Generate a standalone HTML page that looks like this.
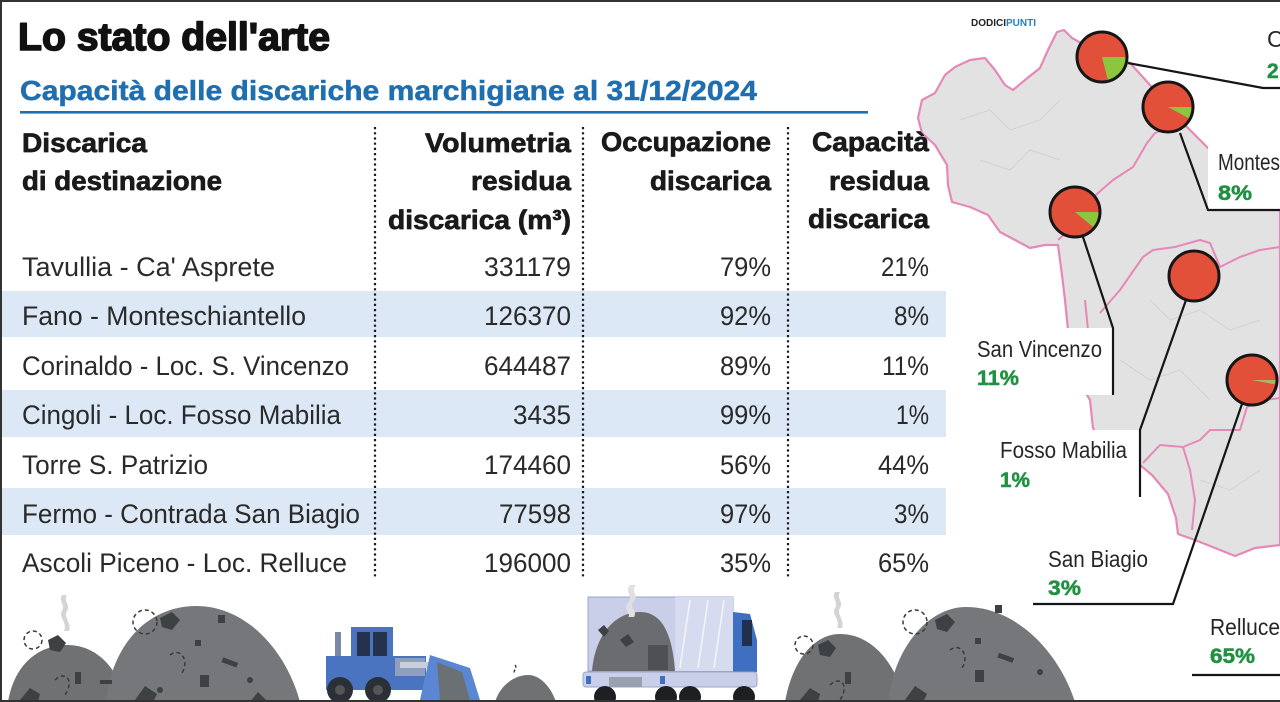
<!DOCTYPE html>
<html><head><meta charset="utf-8"><style>
html,body{margin:0;padding:0;background:#fff;}
svg{display:block;}
</style></head><body>
<svg width="1280" height="702" viewBox="0 0 1280 702" xmlns="http://www.w3.org/2000/svg">
<rect width="1280" height="702" fill="#fff"/>

<!-- MAP -->
<polygon points="1057,32 1064,30 1072,38 1090,48 1110,55 1130,63 1150,85 1170,110 1190,130 1210,150 1240,175 1280,205 1280,545 1255,548 1235,556 1215,548 1195,540 1178,534 1176,518 1168,494 1152,475 1140,465 1120,455 1100,440 1093,428 1090,400 1087,395 1075,360 1068,330 1065,300 1062,275 1058,245 1045,245 1030,248 1015,240 1000,232 988,215 970,207 952,202 948,185 947,165 935,145 922,133 918,118 922,100 935,93 945,75 955,67 970,60 985,58 995,70 1005,85 1013,90 1025,80 1040,68 1048,50" fill="#e2e2e2" stroke="#e688b8" stroke-width="2.2" stroke-linejoin="round"/>
<g fill="none" stroke="#e688b8" stroke-width="2" stroke-linejoin="round">
<polyline points="1058,240 1075,225 1090,200 1113,180 1133,167 1147,143 1155,133 1168,128"/>
<polyline points="1100,313 1120,290 1143,257 1153,250 1175,247 1200,240 1210,243 1220,267 1240,257 1260,250 1280,247"/>
<polyline points="1143,463 1160,445 1183,447 1200,440 1210,430 1240,430 1247,407 1265,400 1280,398"/>
<polyline points="1183,447 1190,470 1195,500 1192,530"/>
<polyline points="1085,300 1088,330 1087,395"/>
</g>
<g fill="none" stroke="#d2d2d2" stroke-width="1">
<polyline points="960,120 990,110 1010,130 1040,120 1060,100"/>
<polyline points="980,160 1010,170 1030,150 1060,160"/>
<polyline points="1150,300 1170,320 1200,310 1230,330 1260,320"/>
<polyline points="1120,360 1150,380 1180,370 1210,400"/>
<polyline points="1200,480 1230,490 1260,470"/>
</g>

<!-- label boxes -->
<rect x="1208" y="146" width="72" height="64" fill="#fff"/>
<rect x="970" y="328" width="143" height="67" fill="#fff"/>
<rect x="995" y="430" width="145" height="67" fill="#fff"/>

<!-- leader lines -->
<g fill="none" stroke="#161616" stroke-width="2.2">
<polyline points="1128,63 1263,88 1280,88"/>
<polyline points="1180,133 1208,210 1280,210"/>
<polyline points="1083,237 1113,328 1113,395"/>
<polyline points="1186,300 1140,430 1140,497"/>
<polyline points="1242,404 1173,604 1033,604"/>
<polyline points="1192,675 1280,675"/>
</g>

<!-- pies -->
<g stroke="none">
<circle cx="1102" cy="57" r="24.5" fill="#e2503a"/>
<path d="M1102,57 L1126.5,57 A24.5,24.5 0 0,1 1108.1,80.7 Z" fill="#8cc63f"/>
<circle cx="1102" cy="57" r="25" fill="none" stroke="#161616" stroke-width="3"/>

<circle cx="1168" cy="107" r="24.5" fill="#e2503a"/>
<path d="M1168,107 L1192.5,107 A24.5,24.5 0 0,1 1189.5,118.8 Z" fill="#8cc63f"/>
<circle cx="1168" cy="107" r="25" fill="none" stroke="#161616" stroke-width="3"/>

<circle cx="1075" cy="212" r="24.5" fill="#e2503a"/>
<path d="M1075,212 L1099.5,212 A24.5,24.5 0 0,1 1093.9,227.6 Z" fill="#8cc63f"/>
<circle cx="1075" cy="212" r="25" fill="none" stroke="#161616" stroke-width="3"/>

<circle cx="1194" cy="276" r="24.5" fill="#e2503a"/>
<circle cx="1194" cy="276" r="25" fill="none" stroke="#161616" stroke-width="3"/>

<circle cx="1252" cy="380" r="24.5" fill="#e2503a"/>
<path d="M1252,380 L1276.5,380 A24.5,24.5 0 0,1 1276.1,384.6 Z" fill="#a8b860"/>
<circle cx="1252" cy="380" r="25" fill="none" stroke="#161616" stroke-width="3"/>
</g>

<!-- map labels -->
<g font-family="Liberation Sans, sans-serif" font-size="23" fill="#262626">
<text x="1267" y="47">C</text>
<text x="1218" y="170" textLength="62" lengthAdjust="spacingAndGlyphs">Montes</text>
<text x="977" y="357" textLength="125" lengthAdjust="spacingAndGlyphs">San Vincenzo</text>
<text x="1000" y="458" textLength="127" lengthAdjust="spacingAndGlyphs">Fosso Mabilia</text>
<text x="1048" y="567" textLength="100" lengthAdjust="spacingAndGlyphs">San Biagio</text>
<text x="1210" y="635" textLength="70" lengthAdjust="spacingAndGlyphs">Relluce</text>
</g>
<g font-family="Liberation Sans, sans-serif" font-size="21" font-weight="bold" fill="#1f9140" stroke="#1f9140" stroke-width="0.5">
<text x="1267" y="78">2</text>
<text x="1218" y="200" textLength="34" lengthAdjust="spacingAndGlyphs">8%</text>
<text x="977" y="385" textLength="42" lengthAdjust="spacingAndGlyphs">11%</text>
<text x="1000" y="487" textLength="30" lengthAdjust="spacingAndGlyphs">1%</text>
<text x="1048" y="595" textLength="33" lengthAdjust="spacingAndGlyphs">3%</text>
<text x="1210" y="663" textLength="45" lengthAdjust="spacingAndGlyphs">65%</text>
</g>

<text x="971" y="26" font-family="Liberation Sans, sans-serif" font-size="10" font-weight="bold" textLength="65" lengthAdjust="spacingAndGlyphs"><tspan fill="#222">DODICI</tspan><tspan fill="#2a7fc1">PUNTI</tspan></text>

<!-- TITLE -->
<text x="18" y="50" font-family="Liberation Sans, sans-serif" font-size="39" font-weight="bold" fill="#111" stroke="#111" stroke-width="1.6" stroke-linejoin="round" textLength="312" lengthAdjust="spacingAndGlyphs">Lo stato dell'arte</text>
<text x="20" y="100" font-family="Liberation Sans, sans-serif" font-size="28" font-weight="bold" fill="#1f6fb0" stroke="#1f6fb0" stroke-width="0.5" textLength="737" lengthAdjust="spacingAndGlyphs">Capacità delle discariche marchigiane al 31/12/2024</text>
<rect x="20" y="111" width="848" height="2.6" fill="#1f6fb0"/>

<!-- bands -->
<g fill="#dce8f5">
<rect x="2" y="291" width="944" height="46"/>
<rect x="2" y="390" width="944" height="47"/>
<rect x="2" y="488" width="944" height="47"/>
</g>

<!-- dotted dividers -->
<g stroke="#1a1a1a" stroke-width="2.2" stroke-dasharray="2.2 3">
<line x1="375" y1="127" x2="375" y2="578"/>
<line x1="583" y1="127" x2="583" y2="578"/>
<line x1="788" y1="127" x2="788" y2="578"/>
</g>

<!-- headers -->
<g font-family="Liberation Sans, sans-serif" font-size="27" font-weight="bold" fill="#1a1a1a" stroke="#1a1a1a" stroke-width="0.7" stroke-linejoin="round">
<text x="22" y="152" textLength="125" lengthAdjust="spacingAndGlyphs">Discarica</text>
<text x="22" y="190" textLength="200" lengthAdjust="spacingAndGlyphs">di destinazione</text>
<text x="425" y="152" textLength="146" lengthAdjust="spacingAndGlyphs">Volumetria</text>
<text x="471" y="190" textLength="100" lengthAdjust="spacingAndGlyphs">residua</text>
<text x="388" y="229" textLength="183" lengthAdjust="spacingAndGlyphs">discarica (m³)</text>
<text x="601" y="151" textLength="170" lengthAdjust="spacingAndGlyphs">Occupazione</text>
<text x="650" y="190" textLength="121" lengthAdjust="spacingAndGlyphs">discarica</text>
<text x="812" y="151" textLength="117" lengthAdjust="spacingAndGlyphs">Capacità</text>
<text x="829" y="190" textLength="100" lengthAdjust="spacingAndGlyphs">residua</text>
<text x="808" y="228" textLength="121" lengthAdjust="spacingAndGlyphs">discarica</text>
</g>

<!-- rows -->
<g font-family="Liberation Sans, sans-serif" font-size="27" fill="#2a2a2a">
<text x="22" y="276" textLength="253" lengthAdjust="spacingAndGlyphs">Tavullia - Ca' Asprete</text>
<text x="484" y="276" textLength="87" lengthAdjust="spacingAndGlyphs">331179</text>
<text x="720" y="276" textLength="51" lengthAdjust="spacingAndGlyphs">79%</text>
<text x="881" y="276" textLength="48" lengthAdjust="spacingAndGlyphs">21%</text>

<text x="22" y="325" textLength="284" lengthAdjust="spacingAndGlyphs">Fano - Monteschiantello</text>
<text x="484" y="325" textLength="87" lengthAdjust="spacingAndGlyphs">126370</text>
<text x="720" y="325" textLength="51" lengthAdjust="spacingAndGlyphs">92%</text>
<text x="894" y="325" textLength="35" lengthAdjust="spacingAndGlyphs">8%</text>

<text x="22" y="375" textLength="327" lengthAdjust="spacingAndGlyphs">Corinaldo - Loc. S. Vincenzo</text>
<text x="484" y="375" textLength="87" lengthAdjust="spacingAndGlyphs">644487</text>
<text x="720" y="375" textLength="51" lengthAdjust="spacingAndGlyphs">89%</text>
<text x="882" y="375" textLength="47" lengthAdjust="spacingAndGlyphs">11%</text>

<text x="22" y="424" textLength="319" lengthAdjust="spacingAndGlyphs">Cingoli - Loc. Fosso Mabilia</text>
<text x="513" y="424" textLength="58" lengthAdjust="spacingAndGlyphs">3435</text>
<text x="720" y="424" textLength="51" lengthAdjust="spacingAndGlyphs">99%</text>
<text x="896" y="424" textLength="33" lengthAdjust="spacingAndGlyphs">1%</text>

<text x="22" y="474" textLength="186" lengthAdjust="spacingAndGlyphs">Torre S. Patrizio</text>
<text x="484" y="474" textLength="87" lengthAdjust="spacingAndGlyphs">174460</text>
<text x="720" y="474" textLength="51" lengthAdjust="spacingAndGlyphs">56%</text>
<text x="878" y="474" textLength="51" lengthAdjust="spacingAndGlyphs">44%</text>

<text x="22" y="523" textLength="338" lengthAdjust="spacingAndGlyphs">Fermo - Contrada San Biagio</text>
<text x="499" y="523" textLength="72" lengthAdjust="spacingAndGlyphs">77598</text>
<text x="720" y="523" textLength="51" lengthAdjust="spacingAndGlyphs">97%</text>
<text x="894" y="523" textLength="35" lengthAdjust="spacingAndGlyphs">3%</text>

<text x="22" y="572" textLength="325" lengthAdjust="spacingAndGlyphs">Ascoli Piceno - Loc. Relluce</text>
<text x="484" y="572" textLength="87" lengthAdjust="spacingAndGlyphs">196000</text>
<text x="720" y="572" textLength="51" lengthAdjust="spacingAndGlyphs">35%</text>
<text x="878" y="572" textLength="51" lengthAdjust="spacingAndGlyphs">65%</text>
</g>

<!-- ILLUSTRATIONS -->
<!-- left heaps -->
<path d="M8,702 C14,665 38,645 67,645 C97,645 118,668 126,702 Z" fill="#6f7173"/>
<path d="M106,702 C112,642 150,606 196,606 C246,606 286,650 300,702 Z" fill="#75777a"/>
<g fill="#3d4143">
<path d="M48,640 l10,-5 l8,8 l-6,9 l-10,-2 Z"/>
<path d="M160,618 l12,-6 l8,8 l-8,10 l-10,-3 Z"/>
<rect x="218" y="615" width="7" height="8"/>
<rect x="195" y="640" width="6" height="6"/>
<rect x="222" y="660" width="16" height="5" transform="rotate(20 230 662)"/>
<rect x="200" y="675" width="9" height="12"/>
<rect x="75" y="672" width="6" height="12"/>
<rect x="100" y="680" width="12" height="4"/>
<path d="M20,700 l10,-12 l10,6 l-2,8 Z"/>
<path d="M135,700 l10,-14 l12,8 l-4,8 Z"/>
<path d="M250,702 l8,-10 l10,10 Z"/>
<circle cx="160" cy="690" r="3"/>
<circle cx="250" cy="680" r="3"/>
</g>
<g fill="none" stroke="#3a3a3a" stroke-width="1.5" stroke-dasharray="4 3">
<circle cx="33" cy="640" r="9"/>
<circle cx="145" cy="622" r="12"/>
<path d="M55,680 c10,-10 20,0 10,15"/>
<path d="M170,655 c10,-8 20,5 12,18"/>
</g>
<path d="M62,595 c-4,6 4,10 0,16 c-4,6 6,12 2,20 l5,0 c3,-8 -6,-14 -2,-20 c4,-6 -4,-10 0,-16 Z" fill="#d4d4d4"/>

<!-- bulldozer -->
<rect x="335" y="632" width="6" height="28" fill="#7a8aa6"/>
<rect x="351" y="627" width="42" height="42" fill="#4a74c0"/>
<rect x="357" y="632" width="13" height="25" fill="#25324d"/>
<rect x="373" y="632" width="14" height="25" fill="#25324d"/>
<rect x="326" y="656" width="100" height="34" fill="#4a74c0"/>
<rect x="395" y="658" width="30" height="18" fill="#8fa0be"/>
<rect x="400" y="662" width="40" height="6" fill="#c9d0dc"/>
<path d="M430,655 L470,668 L480,700 L420,700 Z" fill="#5b86d3"/>
<path d="M437,662 L462,672 L470,700 L440,700 Z" fill="#6b7075"/>
<circle cx="340" cy="690" r="13" fill="#2b2f36"/>
<circle cx="340" cy="690" r="5" fill="#555"/>
<circle cx="378" cy="690" r="13" fill="#2b2f36"/>
<circle cx="378" cy="690" r="5" fill="#555"/>
<path d="M495,702 C500,685 515,675 528,675 C542,675 552,690 556,702 Z" fill="#6f7173"/>
<path d="M515,665 c3,3 -3,6 0,9" stroke="#444" stroke-width="1.5" fill="none" stroke-dasharray="3 2"/>

<!-- truck -->
<rect x="588" y="597" width="145" height="74" fill="#c9cfe9" stroke="#9aa4cf" stroke-width="1"/>
<rect x="675" y="597" width="58" height="74" fill="#d6dbf0"/>
<g stroke="#f4f6fc" stroke-width="1.5">
<line x1="690" y1="600" x2="680" y2="668"/>
<line x1="708" y1="600" x2="698" y2="668"/>
<line x1="724" y1="600" x2="714" y2="668"/>
</g>
<path d="M592,671 C595,635 615,612 640,612 C660,612 672,630 675,671 Z" fill="#6a6c70"/>
<rect x="648" y="645" width="20" height="25" fill="#4e5154"/>
<path d="M598,630 l6,-5 l5,6 l-5,6 Z M620,640 l8,-6 l6,8 l-8,5 Z" fill="#3d4143"/>
<path d="M630,585 c-6,6 4,12 -2,18 c-6,6 4,12 0,14 l6,0 c4,-6 -6,-10 0,-16 c5,-6 -4,-10 2,-16 Z" fill="#e0e0e0"/>
<path d="M733,612 L750,614 L757,640 L757,672 L733,672 Z" fill="#3f6fc1"/>
<rect x="742" y="620" width="10" height="26" fill="#22304f"/>
<rect x="583" y="672" width="174" height="15" rx="3" fill="#c9cfe9" stroke="#9aa4cf" stroke-width="1"/>
<rect x="609" y="677" width="33" height="10" fill="#9aa0ad"/>
<rect x="586" y="676" width="5" height="8" fill="#3f6fc1"/>
<rect x="660" y="676" width="5" height="8" fill="#3f6fc1"/>
<circle cx="605" cy="697" r="11" fill="#1d1f22"/>
<circle cx="666" cy="697" r="11" fill="#1d1f22"/>
<circle cx="690" cy="697" r="11" fill="#1d1f22"/>
<circle cx="744" cy="697" r="11" fill="#1d1f22"/>

<!-- right heaps -->
<path d="M785,702 C792,662 813,634 840,634 C870,634 895,660 905,702 Z" fill="#6f7173"/>
<path d="M888,702 C894,648 928,607 966,607 C1015,607 1058,650 1075,702 Z" fill="#75777a"/>
<g fill="#3d4143">
<path d="M818,645 l10,-5 l8,8 l-6,9 l-10,-2 Z"/>
<path d="M935,620 l12,-6 l8,8 l-8,10 l-10,-3 Z"/>
<rect x="995" y="605" width="7" height="8"/>
<rect x="975" y="638" width="6" height="6"/>
<rect x="998" y="655" width="16" height="5" transform="rotate(20 1005 657)"/>
<rect x="975" y="670" width="9" height="12"/>
<rect x="845" y="672" width="6" height="12"/>
<path d="M800,700 l10,-12 l10,6 l-2,8 Z"/>
<path d="M905,700 l10,-14 l12,8 l-4,8 Z"/>
<circle cx="1040" cy="672" r="3"/>
</g>
<g fill="none" stroke="#3a3a3a" stroke-width="1.5" stroke-dasharray="4 3">
<circle cx="804" cy="645" r="9"/>
<circle cx="915" cy="622" r="12"/>
<path d="M830,685 c10,-10 20,0 10,15"/>
<path d="M950,650 c10,-8 20,5 12,18"/>
</g>
<path d="M835,592 c-4,6 4,10 0,16 c-4,6 6,12 2,20 l5,0 c3,-8 -6,-14 -2,-20 c4,-6 -4,-10 0,-16 Z" fill="#d4d4d4"/>

<!-- frame -->
<rect x="0" y="0" width="1280" height="2" fill="#333"/>
<rect x="0" y="0" width="2" height="702" fill="#333"/>
<rect x="0" y="700" width="1280" height="2" fill="#333"/>
</svg>
</body></html>
